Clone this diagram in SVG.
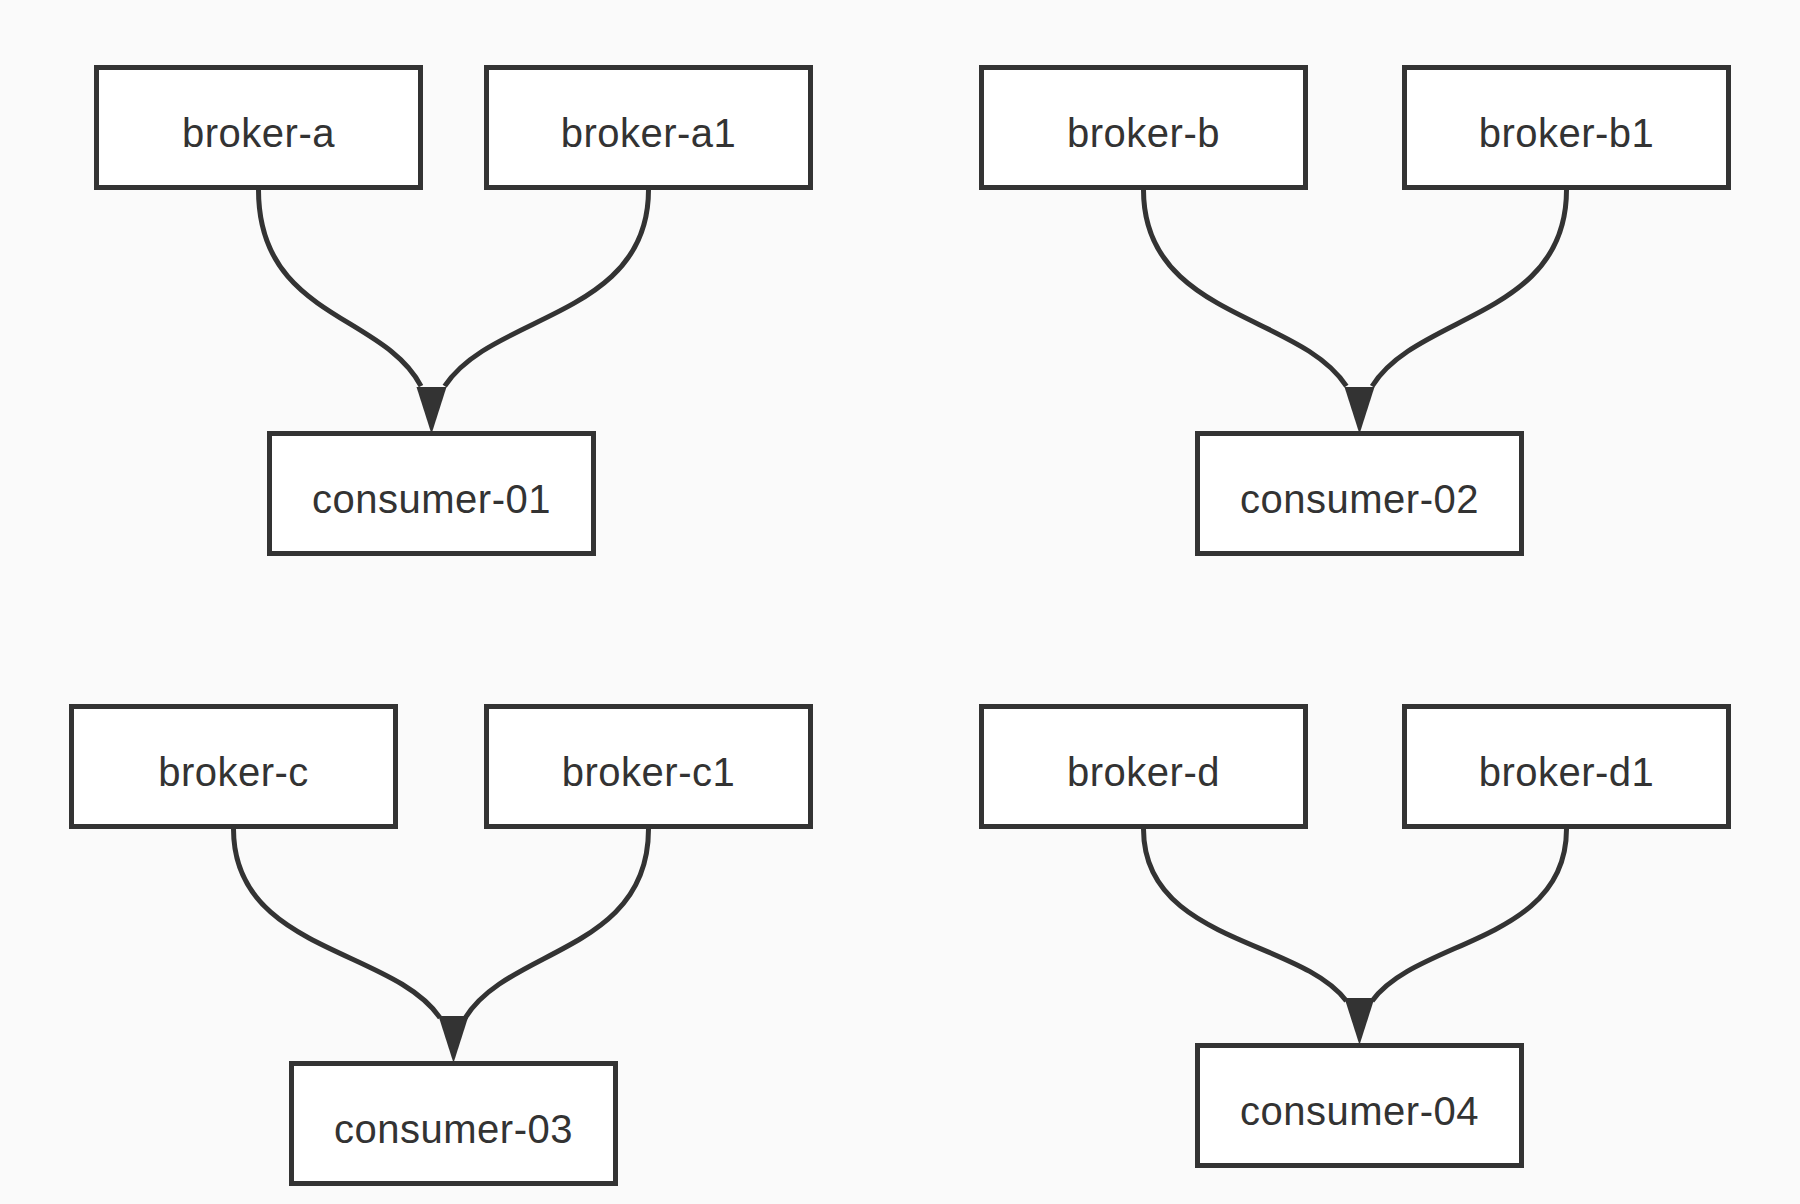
<svg xmlns="http://www.w3.org/2000/svg" width="1800" height="1204" viewBox="0 0 1800 1204">
  <style>
    .box rect { fill: #ffffff; stroke: #333333; stroke-width: 5; }
    .box text { font-family: "Liberation Sans", Arial, Helvetica, sans-serif; font-size: 40px; fill: #333333; text-anchor: middle; letter-spacing: 0.5px; }
    .edge { fill: none; stroke: #333333; stroke-width: 5; }
    .head { fill: #333333; stroke: none; }
  </style>
  <defs>
    <path id="arrowhead" d="M-15,-47 L15,-47 L0,0 Z"/>
  </defs>
  <rect x="0" y="0" width="1800" height="1204" fill="#fafafa"/>

  <g id="connectors">
    <path class="edge" d="M258.5,190 C258.5,317.5 383.5,313.5 421,386.2"/>
    <path class="edge" d="M648.5,190 C648.5,317.5 491.7,313.5 444.7,386.2"/>
    <use class="head" href="#arrowhead" x="431.5" y="434"/>

    <path class="edge" d="M1143.5,190 C1143.5,317.5 1299.6,313.5 1346.4,386.2"/>
    <path class="edge" d="M1566.5,190 C1566.5,317.5 1416.9,313.5 1372.1,386.2"/>
    <use class="head" href="#arrowhead" x="1359.5" y="434"/>

    <path class="edge" d="M233.5,829 C233.5,951.8 392.5,947.9 440.1,1017.9"/>
    <path class="edge" d="M648.5,829 C648.5,951.8 507.6,947.9 465.3,1017.9"/>
    <use class="head" href="#arrowhead" x="453.5" y="1063"/>

    <path class="edge" d="M1143.5,829 C1143.5,942.3 1299.6,938.8 1346.4,1001"/>
    <path class="edge" d="M1566.5,829 C1566.5,942.3 1416.9,938.8 1372.1,1001"/>
    <use class="head" href="#arrowhead" x="1359.5" y="1045"/>
  </g>

  <g id="broker-a" class="box"><rect x="96.5" y="67.5" width="324" height="120"/><text x="258.5" y="147">broker-a</text></g>
  <g id="broker-a1" class="box"><rect x="486.5" y="67.5" width="324" height="120"/><text x="648.5" y="147">broker-a1</text></g>
  <g id="consumer-01" class="box"><rect x="269.5" y="433.5" width="324" height="120"/><text x="431.5" y="513">consumer-01</text></g>

  <g id="broker-b" class="box"><rect x="981.5" y="67.5" width="324" height="120"/><text x="1143.5" y="147">broker-b</text></g>
  <g id="broker-b1" class="box"><rect x="1404.5" y="67.5" width="324" height="120"/><text x="1566.5" y="147">broker-b1</text></g>
  <g id="consumer-02" class="box"><rect x="1197.5" y="433.5" width="324" height="120"/><text x="1359.5" y="513">consumer-02</text></g>

  <g id="broker-c" class="box"><rect x="71.5" y="706.5" width="324" height="120"/><text x="233.5" y="786">broker-c</text></g>
  <g id="broker-c1" class="box"><rect x="486.5" y="706.5" width="324" height="120"/><text x="648.5" y="786">broker-c1</text></g>
  <g id="consumer-03" class="box"><rect x="291.5" y="1063.5" width="324" height="120"/><text x="453.5" y="1143">consumer-03</text></g>

  <g id="broker-d" class="box"><rect x="981.5" y="706.5" width="324" height="120"/><text x="1143.5" y="786">broker-d</text></g>
  <g id="broker-d1" class="box"><rect x="1404.5" y="706.5" width="324" height="120"/><text x="1566.5" y="786">broker-d1</text></g>
  <g id="consumer-04" class="box"><rect x="1197.5" y="1045.5" width="324" height="120"/><text x="1359.5" y="1125">consumer-04</text></g>
</svg>
